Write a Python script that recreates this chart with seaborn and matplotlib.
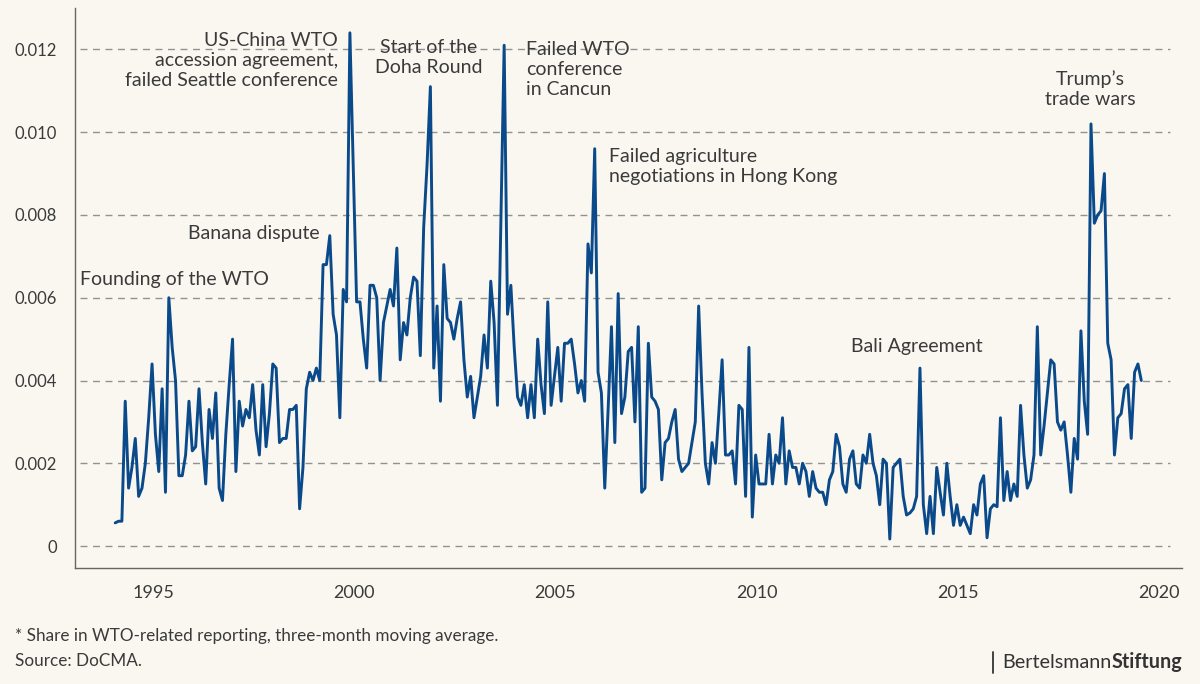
import numpy as np
import pandas as pd
import matplotlib
matplotlib.use("Agg")
import matplotlib.pyplot as plt
from matplotlib.lines import Line2D
import seaborn as sns

# monthly share in WTO-related reporting, Jan 1994 onwards
share = [
    0.00056, 0.0006, 0.0006, 0.0035, 0.0014, 0.0019, 0.0026, 0.0012, 0.0014, 0.0020, 0.0031, 0.0044,
    0.0027, 0.0018, 0.0038, 0.0013, 0.0060, 0.0048, 0.0040, 0.0017, 0.0017, 0.0022, 0.0035, 0.0023,
    0.0024, 0.0038, 0.0025, 0.0015, 0.0033, 0.0026, 0.0037, 0.0014, 0.0011, 0.0027, 0.0039, 0.0050,
    0.0018, 0.0035, 0.0029, 0.0033, 0.0031, 0.0039, 0.0028, 0.0022, 0.0039, 0.0024, 0.0032, 0.0044,
    0.0043, 0.0025, 0.0026, 0.0026, 0.0033, 0.0033, 0.0034, 0.0009, 0.0019, 0.0038, 0.0042, 0.0040,
    0.0043, 0.0040, 0.0068, 0.0068, 0.0075, 0.0056, 0.0051, 0.0031, 0.0062, 0.0059, 0.0124, 0.0091,
    0.0059, 0.0059, 0.0050, 0.0043, 0.0063, 0.0063, 0.0060, 0.0040, 0.0054, 0.0058, 0.0062, 0.0058,
    0.0072, 0.0045, 0.0054, 0.0051, 0.0060, 0.0065, 0.0064, 0.0046, 0.0077, 0.0092, 0.0111, 0.0043,
    0.0058, 0.0035, 0.0068, 0.0055, 0.0054, 0.0050, 0.0055, 0.0059, 0.0045, 0.0036, 0.0041, 0.0031,
    0.0036, 0.0041, 0.0051, 0.0043, 0.0064, 0.0054, 0.0034, 0.0078, 0.0121, 0.0056, 0.0063, 0.0048,
    0.0036, 0.0034, 0.0039, 0.0031, 0.0039, 0.0031, 0.0050, 0.0039, 0.0032, 0.0059, 0.0034, 0.0041,
    0.0048, 0.0035, 0.0049, 0.0049, 0.0050, 0.0044, 0.0037, 0.0040, 0.0035, 0.0073, 0.0066, 0.0096,
    0.0042, 0.0037, 0.0014, 0.0033, 0.0053, 0.0025, 0.0061, 0.0032, 0.0036, 0.0047, 0.0048, 0.0030,
    0.0053, 0.0013, 0.0014, 0.0049, 0.0036, 0.0035, 0.0033, 0.0016, 0.0025, 0.0026, 0.0030, 0.0033,
    0.0021, 0.0018, 0.0019, 0.0020, 0.0025, 0.0030, 0.0058, 0.0037, 0.0020, 0.0015, 0.0025, 0.0020,
    0.0032, 0.0045, 0.0022, 0.0022, 0.0023, 0.0015, 0.0034, 0.0033, 0.0012, 0.0048, 0.0007, 0.0022,
    0.0015, 0.0015, 0.0015, 0.0027, 0.0015, 0.0022, 0.0020, 0.0031, 0.0015, 0.0023, 0.0019, 0.0019,
    0.0015, 0.0020, 0.0018, 0.0012, 0.0018, 0.0014, 0.0013, 0.0013, 0.0010, 0.0016, 0.0018, 0.0027,
    0.0024, 0.0015, 0.0013, 0.0021, 0.0023, 0.0015, 0.0014, 0.0022, 0.0020, 0.0027, 0.0020, 0.0017,
    0.0010, 0.0021, 0.0020, 0.00017, 0.0019, 0.0020, 0.0021, 0.0012, 0.00075, 0.0008, 0.0009, 0.0012,
    0.0043, 0.0010, 0.0003, 0.0012, 0.0003, 0.0019, 0.0013, 0.00075, 0.0020, 0.0012, 0.0005, 0.0010,
    0.0005, 0.0007, 0.0005, 0.0003, 0.0010, 0.00075, 0.0015, 0.0017, 0.0002, 0.0009, 0.0010, 0.00095,
    0.0031, 0.0011, 0.0018, 0.0011, 0.0015, 0.0012, 0.0034, 0.0022, 0.0014, 0.0016, 0.0022, 0.0053,
    0.0022, 0.0029, 0.0037, 0.0045, 0.0044, 0.0030, 0.0028, 0.0030, 0.0022, 0.0013, 0.0026, 0.0021,
    0.0052, 0.0035, 0.0027, 0.0102, 0.0078, 0.0080, 0.0081, 0.0090, 0.0049, 0.0045, 0.0022, 0.0031,
    0.0032, 0.0038, 0.0039, 0.0026, 0.0042, 0.0044, 0.0040,
]
start_year = 1994

xticks = [1995, 2000, 2005, 2010, 2015, 2020]
yticks = [0, 0.002, 0.004, 0.006, 0.008, 0.010, 0.012]
ytick_labels = ["0", "0.002", "0.004", "0.006", "0.008", "0.010", "0.012"]

events = [
    "Founding of the WTO",
    "Banana dispute",
    "US-China WTO\naccession agreement,\nfailed Seattle conference",
    "Start of the\nDoha Round",
    "Failed WTO\nconference\nin Cancun",
    "Failed agriculture\nnegotiations in Hong Kong",
    "Bali Agreement",
    "Trump\u2019s\ntrade wars",
]

years = start_year + (np.arange(len(share)) + 0.7) / 12
df = pd.DataFrame({"year": years, "share": share})

sns.set_theme(style="white")
plt.rcParams["font.family"] = ["Lato", "DejaVu Sans"]

bg = "#f9f7f0"
txt = "#3a3a3a"
fig = plt.figure(figsize=(12, 6.84), dpi=100, facecolor=bg)
ax = fig.add_axes([75 / 1200, 1 - 568 / 684, (1182 - 75) / 1200, (568 - 8) / 684])
ax.set_facecolor(bg)

# dashed grid
ax.hlines(yticks, 1993.19, 2020.27, colors="#929292", linewidth=1, linestyles=(0, (5, 4)), zorder=1)

sns.lineplot(data=df, x="year", y="share", color="#0b4a8a", linewidth=2.1, ax=ax, zorder=3)

ax.set_xlim(1993.06, 2020.57)
ax.set_ylim(-0.00053, 0.013)
ax.set_xticks(xticks)
ax.set_xticklabels([str(x) for x in xticks])
ax.set_yticks(yticks)
ax.set_yticklabels(ytick_labels)
ax.set_xlabel("")
ax.set_ylabel("")
ax.tick_params(axis="y", length=0, pad=13, labelsize=12, labelcolor=txt)
ax.tick_params(axis="x", length=7, width=1, color="#666666", pad=5, labelsize=13, labelcolor=txt)
for side in ["top", "right"]:
    ax.spines[side].set_visible(False)
for side in ["left", "bottom"]:
    ax.spines[side].set_color("#666666")
    ax.spines[side].set_linewidth(1)

fs = 14
ls = 1.22
ax.text(1993.19, 0.00643, events[0], ha="left", va="center", fontsize=fs, color=txt)
ax.text(1999.15, 0.00756, events[1], ha="right", va="center", fontsize=fs, color=txt)
ax.text(1999.60, 0.01174, events[2], ha="right", va="center", fontsize=fs, color=txt, linespacing=ls)
ax.text(2001.86, 0.01181, events[3], ha="center", va="center", fontsize=fs, color=txt, linespacing=ls)
ax.text(2004.27, 0.01152, events[4], ha="left", va="center", fontsize=fs, color=txt, linespacing=ls)
ax.text(2006.33, 0.00918, events[5], ha="left", va="center", fontsize=fs, color=txt, linespacing=ls)
ax.text(2013.99, 0.00481, events[6], ha="center", va="center", fontsize=fs, color=txt)
ax.text(2018.28, 0.01104, events[7], ha="center", va="center", fontsize=fs, color=txt, linespacing=ls)

# footer
fig.text(15 / 1200, 1 - 636 / 684, "* Share in WTO-related reporting, three-month moving average.",
         ha="left", va="center", fontsize=12.3, color=txt)
fig.text(15 / 1200, 1 - 661 / 684, "Source: DoCMA.", ha="left", va="center", fontsize=12.3, color=txt)

# logo
stift = fig.text(1182 / 1200, 1 - 662 / 684, "Stiftung", ha="right", va="center",
                 fontsize=14.2, fontweight="bold", color="#333333")
fig.canvas.draw()
bb = stift.get_window_extent()
fig.text(bb.x0 / 1200, 1 - 662 / 684, "Bertelsmann", ha="right", va="center",
         fontsize=14.2, color="#333333")
fig.add_artist(Line2D([993 / 1200, 993 / 1200], [1 - 652 / 684, 1 - 673 / 684],
                      color="#333333", linewidth=1.3))

fig.savefig("out.png", dpi=100, facecolor=bg)
